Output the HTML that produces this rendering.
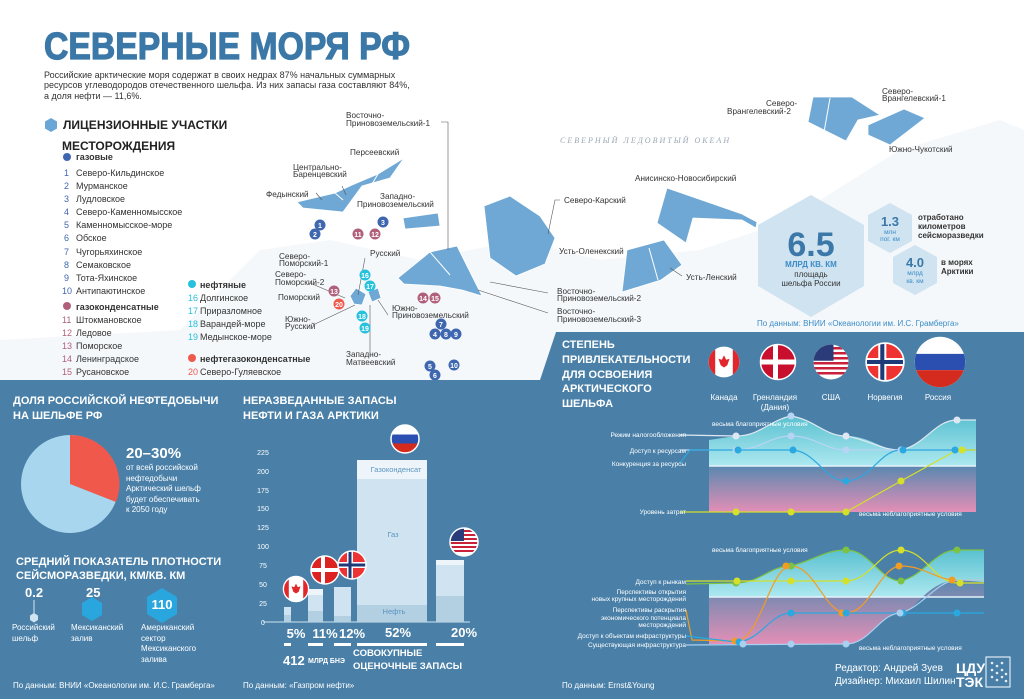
<!DOCTYPE html>
<html><head><meta charset="utf-8"><style>
html,body{margin:0;padding:0;background:#fff}
svg{display:block;font-family:"Liberation Sans","Noto Sans CJK SC",sans-serif}
.b{font-weight:bold}
</style></head><body>
<svg width="1024" height="699" viewBox="0 0 1024 699" xmlns="http://www.w3.org/2000/svg">
<defs>
<clipPath id="cCa"><circle cx="0" cy="0" r="14"/></clipPath>
<linearGradient id="cy" x1="0" y1="0" x2="0" y2="1"><stop offset="0" stop-color="#5cc8d4"/><stop offset="1" stop-color="#b8f4f8"/></linearGradient>
<linearGradient id="pk" x1="0" y1="0" x2="0" y2="1"><stop offset="0" stop-color="#5a88b0"/><stop offset="1" stop-color="#e48fb6"/></linearGradient>
</defs>
<rect width="1024" height="699" fill="#fff"/>
<g fill="#f5f8fb">
<path d="M180 330 L260 250 L330 240 L420 260 L520 240 L600 260 L700 250 L760 230 L820 200 L900 150 L1000 120 L1024 130 L1024 332 L560 332 L540 380 L0 380 L0 340 Z"/>
</g>
<text x="44" y="59" class="b" font-size="38" fill="#3b78a8" stroke="#3b78a8" stroke-width="1.2" textLength="366" lengthAdjust="spacingAndGlyphs">СЕВЕРНЫЕ МОРЯ РФ</text>
<g font-size="9" fill="#333">
<text x="44" y="78">Российские арктические моря содержат в своих недрах 87% начальных суммарных</text>
<text x="44" y="88">ресурсов углеводородов отечественного шельфа. Из них запасы газа составляют 84%,</text>
<text x="44" y="99">а доля нефти — 11,6%.</text>
</g>
<polygon points="51,118 57,121.5 57,128.5 51,132 45,128.5 45,121.5" fill="#6aa6d6"/>
<text x="63" y="129" class="b" font-size="12" fill="#222">ЛИЦЕНЗИОННЫЕ УЧАСТКИ</text>
<text x="62" y="150" class="b" font-size="12" fill="#222">МЕСТОРОЖДЕНИЯ</text>
<g font-size="9" fill="#333">
<circle cx="67" cy="157" r="4" fill="#3f67b0"/><text x="76" y="160" class="b">газовые</text>
<g fill="#3f67b0"><text x="64" y="176">1</text><text x="64" y="189">2</text><text x="64" y="202">3</text><text x="64" y="215">4</text><text x="64" y="228">5</text><text x="64" y="241">6</text><text x="64" y="255">7</text><text x="64" y="268">8</text><text x="64" y="281">9</text><text x="62" y="294">10</text></g>
<text x="76" y="176">Северо-Кильдинское</text><text x="76" y="189">Мурманское</text><text x="76" y="202">Лудловское</text><text x="76" y="215">Северо-Каменномысское</text><text x="76" y="228">Каменномысское-море</text><text x="76" y="241">Обское</text><text x="76" y="255">Чугорьяхинское</text><text x="76" y="268">Семаковское</text><text x="76" y="281">Тота-Яхинское</text><text x="76" y="294">Антипаютинское</text>
<circle cx="67" cy="306" r="4" fill="#b0607a"/><text x="76" y="310" class="b">газоконденсатные</text>
<g fill="#b0607a"><text x="62" y="323">11</text><text x="62" y="336">12</text><text x="62" y="349">13</text><text x="62" y="362">14</text><text x="62" y="375">15</text></g>
<text x="76" y="323">Штокмановское</text><text x="76" y="336">Ледовое</text><text x="76" y="349">Поморское</text><text x="76" y="362">Ленинградское</text><text x="76" y="375">Русановское</text>
<circle cx="192" cy="284" r="4" fill="#27c0dd"/><text x="200" y="288" class="b">нефтяные</text>
<g fill="#27c0dd"><text x="188" y="301">16</text><text x="188" y="314">17</text><text x="188" y="327">18</text><text x="188" y="340">19</text></g>
<text x="200" y="301">Долгинское</text><text x="200" y="314">Приразломное</text><text x="200" y="327">Варандей-море</text><text x="200" y="340">Медынское-море</text>
<circle cx="192" cy="358" r="4" fill="#f05a4c"/><text x="200" y="362" class="b">нефтегазоконденсатные</text>
<text x="188" y="375" fill="#f05a4c">20</text><text x="200" y="375">Северо-Гуляевское</text>
</g>
<g fill="#6fa8d4" stroke="#fff" stroke-width=".8">
<polygon points="297,202 335,193 352,185 378,174 404,158 390,178 362,186 343,212 303,208"/>
<polygon points="403,218 438,213 440,226 405,229"/>
<polygon points="398,278 430,252 457,246 482,296 462,290 440,286 404,284"/>
<polygon points="484,206 510,196 540,216 555,238 545,264 516,276 490,258"/>
<polygon points="657,223 667,188 742,214 757,222 756,228 742,220 693,218 686,243"/>
<polygon points="622,292 627,250 664,240 682,265 661,280"/>
<polygon points="808,122 813,97 852,97 880,115 858,120 846,141"/>
<polygon points="868,125 904,109 925,118 890,145 868,135"/>
<polygon points="350,296 356,288 366,294 362,305 354,304"/>
<polygon points="368,292 378,288 381,298 372,302"/>
</g>
<g stroke="#fff" stroke-width="1"><line x1="335" y1="193" x2="343" y2="200"/><line x1="378" y1="174" x2="372" y2="184"/><line x1="430" y1="252" x2="450" y2="275"/><line x1="830" y1="98" x2="823" y2="138"/><line x1="649" y1="248" x2="658" y2="280"/></g>
<g font-size="8.2" fill="#333">
<text x="346" y="118">Восточно-</text><text x="346" y="126">Приновоземельский-1</text>
<text x="350" y="155">Персеевский</text>
<text x="293" y="170">Центрально-</text><text x="293" y="177">Баренцевский</text>
<text x="266" y="197">Федынский</text>
<text x="380" y="199">Западно-</text><text x="357" y="207">Приновоземельский</text>
<text x="279" y="259">Северо-</text><text x="279" y="266">Поморский-1</text>
<text x="370" y="256">Русский</text>
<text x="275" y="277">Северо-</text><text x="275" y="285">Поморский-2</text>
<text x="278" y="300">Поморский</text>
<text x="285" y="322">Южно-</text><text x="285" y="329">Русский</text>
<text x="392" y="311">Южно-</text><text x="392" y="318">Приновоземельский</text>
<text x="346" y="357">Западно-</text><text x="346" y="365">Матвеевский</text>
<text x="557" y="294">Восточно-</text><text x="557" y="301">Приновоземельский-2</text>
<text x="557" y="314">Восточно-</text><text x="557" y="322">Приновоземельский-3</text>
<text x="564" y="203">Северо-Карский</text>
<text x="635" y="181">Анисинско-Новосибирский</text>
<text x="559" y="254">Усть-Оленекский</text>
<text x="686" y="280">Усть-Ленский</text>
<text x="766" y="106">Северо-</text><text x="727" y="114">Врангелевский-2</text>
<text x="882" y="94">Северо-</text><text x="882" y="101">Врангелевский-1</text>
<text x="889" y="152">Южно-Чукотский</text>
</g>
<text x="560" y="143" font-family="Liberation Serif,serif" font-style="italic" font-size="8" letter-spacing="2" fill="#9aa8b4">СЕВЕРНЫЙ ЛЕДОВИТЫЙ ОКЕАН</text>
<g stroke="#555" stroke-width=".6" fill="none">
<polyline points="441,122 448,122 448,250"/><polyline points="548,293 490,282"/><polyline points="548,313 478,290"/>
<polyline points="560,200 555,200 548,234"/><polyline points="342,186 346,195"/><polyline points="316,193 322,200"/>
<polyline points="310,283 345,298"/><polyline points="365,258 358,295"/><polyline points="313,325 355,305"/>
<polyline points="388,315 378,300"/><polyline points="370,356 370,305"/><polyline points="682,276 670,268"/>
</g>
<g font-size="7" class="b" fill="#fff" text-anchor="middle">
<g fill="#3f67b0"><circle cx="320" cy="225" r="5.5"/><circle cx="315" cy="234" r="5.5"/><circle cx="383" cy="222" r="5.5"/><circle cx="441" cy="324" r="5.5"/><circle cx="435" cy="334" r="5.5"/><circle cx="446" cy="334" r="5.5"/><circle cx="456" cy="334" r="5.5"/><circle cx="430" cy="366" r="5.5"/><circle cx="435" cy="375" r="5.5"/><circle cx="454" cy="365" r="5.5"/></g>
<g fill="#b0607a"><circle cx="358" cy="234" r="5.5"/><circle cx="375" cy="234" r="5.5"/><circle cx="334" cy="291" r="5.5"/><circle cx="423" cy="298" r="5.5"/><circle cx="435" cy="298" r="5.5"/></g>
<g fill="#27c0dd"><circle cx="365" cy="275" r="5.5"/><circle cx="370" cy="286" r="5.5"/><circle cx="362" cy="316" r="5.5"/><circle cx="365" cy="328" r="5.5"/></g>
<circle cx="339" cy="304" r="5.5" fill="#f05a4c"/>
<text x="320" y="228">1</text><text x="315" y="237">2</text><text x="383" y="225">3</text><text x="441" y="327">7</text><text x="435" y="337">4</text><text x="446" y="337">8</text><text x="456" y="337">9</text><text x="430" y="369">5</text><text x="435" y="378">6</text><text x="454" y="368">10</text>
<text x="358" y="237">11</text><text x="375" y="237">12</text><text x="334" y="294">13</text><text x="423" y="301">14</text><text x="435" y="301">15</text>
<text x="365" y="278">16</text><text x="370" y="289">17</text><text x="362" y="319">18</text><text x="365" y="331">19</text><text x="339" y="307">20</text>
</g>
<polygon points="811,195 864,225 864,286 811,317 758,286 758,225" fill="#cfe3f0"/>
<polygon points="890,203 912,215 912,241 890,253 868,241 868,215" fill="#cfe3f0"/>
<polygon points="915,245 937,257 937,283 915,295 893,283 893,257" fill="#cfe3f0"/>
<text x="811" y="256" text-anchor="middle" class="b" font-size="34" fill="#3b78a8">6.5</text>
<text x="811" y="267" text-anchor="middle" class="b" font-size="8" fill="#3b8cc8">МЛРД КВ. КМ</text>
<text x="811" y="277" text-anchor="middle" font-size="8" fill="#333">площадь</text>
<text x="811" y="286" text-anchor="middle" font-size="8" fill="#333">шельфа России</text>
<text x="890" y="226" text-anchor="middle" class="b" font-size="13" fill="#3b78a8">1.3</text>
<text x="890" y="234" text-anchor="middle" font-size="6.5" fill="#3b8cc8">млн</text><text x="890" y="241" text-anchor="middle" font-size="6.5" fill="#3b8cc8">пог. км</text>
<text x="915" y="267" text-anchor="middle" class="b" font-size="13" fill="#3b78a8">4.0</text>
<text x="915" y="275" text-anchor="middle" font-size="6.5" fill="#3b8cc8">млрд</text><text x="915" y="283" text-anchor="middle" font-size="6.5" fill="#3b8cc8">кв. км</text>
<g font-size="8" class="b" fill="#333"><text x="918" y="220">отработано</text><text x="918" y="229">километров</text><text x="918" y="238">сейсморазведки</text><text x="941" y="265">в морях</text><text x="941" y="274">Арктики</text></g>
<text x="757" y="326" font-size="8" fill="#3b8cc8">По данным: ВНИИ «Океанологии им. И.С. Грамберга»</text>
<polygon points="0,380 540,380 556,332 1024,332 1024,699 0,699" fill="#4a80a8"/>
<g class="b" font-size="11" fill="#fff">
<text x="13" y="404">ДОЛЯ РОССИЙСКОЙ НЕФТЕДОБЫЧИ</text><text x="13" y="419">НА ШЕЛЬФЕ РФ</text>
<text x="243" y="404">НЕРАЗВЕДАННЫЕ ЗАПАСЫ</text><text x="243" y="419">НЕФТИ И ГАЗА АРКТИКИ</text>
<text x="16" y="565">СРЕДНИЙ ПОКАЗАТЕЛЬ ПЛОТНОСТИ</text><text x="16" y="579">СЕЙСМОРАЗВЕДКИ, КМ/КВ. КМ</text>
<text x="562" y="348">СТЕПЕНЬ</text><text x="562" y="363">ПРИВЛЕКАТЕЛЬНОСТИ</text><text x="562" y="378">ДЛЯ ОСВОЕНИЯ</text><text x="562" y="392">АРКТИЧЕСКОГО</text><text x="562" y="407">ШЕЛЬФА</text>
</g>
<circle cx="70" cy="484" r="49" fill="#a9d6ef"/>
<path d="M70 484 L70 435 A49 49 0 0 1 116 502 Z" fill="#f0584c"/>
<text x="126" y="458" class="b" font-size="15" fill="#fff">20–30%</text>
<g font-size="8" fill="#fff"><text x="126" y="470">от всей российской</text><text x="126" y="481">нефтедобычи</text><text x="126" y="491">Арктический шельф</text><text x="126" y="502">будет обеспечивать</text><text x="126" y="512">к 2050 году</text></g>
<text x="25" y="597" class="b" font-size="13" fill="#fff">0.2</text>
<line x1="34" y1="600" x2="34" y2="614" stroke="#cfe3f0"/><polygon points="34,613 38,615.5 38,620 34,622.5 30,620 30,615.5" fill="#cfe3f0"/>
<text x="86" y="597" class="b" font-size="13" fill="#fff">25</text>
<polygon points="92,597 102,603 102,615 92,621 82,615 82,603" fill="#2aa6df"/>
<polygon points="162,588 177,597 177,614 162,623 147,614 147,597" fill="#2aa6df"/>
<text x="162" y="609" text-anchor="middle" class="b" font-size="13" fill="#fff">110</text>
<g font-size="8" fill="#fff"><text x="12" y="630">Российский</text><text x="12" y="641">шельф</text><text x="71" y="630">Мексиканский</text><text x="71" y="641">залив</text><text x="141" y="630">Американский</text><text x="141" y="641">сектор</text><text x="141" y="651">Мексиканского</text><text x="141" y="662">залива</text></g>
<g font-size="7" fill="#fff" text-anchor="middle"><text x="263" y="455">225</text><text x="263" y="474">200</text><text x="263" y="493">175</text><text x="263" y="511">150</text><text x="263" y="530">125</text><text x="263" y="549">100</text><text x="263" y="568">75</text><text x="263" y="587">50</text><text x="263" y="606">25</text><text x="263" y="625">0</text></g>
<line x1="263" y1="622" x2="470" y2="622" stroke="#cfe3f0"/>
<g fill="#cfe3f0"><rect x="284" y="607" width="7" height="15"/><rect x="308" y="589" width="15" height="33"/><rect x="334" y="587" width="17" height="35"/><rect x="357" y="460" width="70" height="162"/><rect x="436" y="560" width="28" height="62"/></g>
<g fill="#eef5fa"><rect x="357" y="460" width="70" height="19"/><rect x="308" y="589" width="15" height="6"/><rect x="436" y="560" width="28" height="5"/></g>
<g fill="#b3d0e3"><rect x="357" y="605" width="70" height="17"/><rect x="436" y="596" width="28" height="26"/><rect x="308" y="611" width="15" height="11"/><rect x="334" y="616" width="17" height="6"/><rect x="284" y="615" width="7" height="7"/></g>
<g font-size="7.5" fill="#5a95c0" text-anchor="middle"><text x="396" y="472">Газоконденсат</text><text x="393" y="537">Газ</text><text x="394" y="614">Нефть</text></g>
<g class="b" font-size="13" fill="#fff" text-anchor="middle"><text x="296" y="638">5%</text><text x="325" y="638">11%</text><text x="352" y="638">12%</text><text x="398" y="637">52%</text><text x="464" y="637">20%</text></g>
<g fill="#fff"><rect x="284" y="643" width="7" height="3"/><rect x="308" y="643" width="15" height="3"/><rect x="334" y="643" width="17" height="3"/><rect x="357" y="643" width="70" height="3"/><rect x="436" y="643" width="28" height="3"/></g>
<text x="283" y="665" class="b" font-size="13" fill="#fff">412</text><text x="308" y="663" class="b" font-size="7" fill="#fff">МЛРД БНЭ</text>
<text x="353" y="656" class="b" font-size="9.5" fill="#fff">СОВОКУПНЫЕ</text><text x="353" y="669" class="b" font-size="9.5" fill="#fff">ОЦЕНОЧНЫЕ ЗАПАСЫ</text>
<g font-size="8" fill="#fff">
<text x="13" y="688">По данным: ВНИИ «Океанологии им. И.С. Грамберга»</text>
<text x="243" y="688">По данным: «Газпром нефти»</text>
<text x="562" y="688">По данным: Ernst&amp;Young</text>
</g>
<g transform="translate(296,589) scale(0.9)"><circle r="14" fill="#fff"/><path d="M-14 -14h6v28h-6zM8 -14h6v28h-6z" fill="#e2262b" clip-path="url(#cCa)"/><path d="M0 -6 L2 -2 L5 -3 L3 3 L0 5 L-3 3 L-5 -3 L-2 -2Z" fill="#e2262b"/><circle r="14" fill="none" stroke="#fff" stroke-width="1.5"/></g>
<g transform="translate(325,570)"><circle r="14" fill="#d22"/><path d="M-14 -2h28v4h-28zM-4 -14h4v28h-4z" fill="#fff" clip-path="url(#cCa)"/><circle r="14" fill="none" stroke="#fff" stroke-width="1.5"/></g>
<g transform="translate(352,565)"><circle r="14" fill="#e33"/><path d="M-14 -3h28v6h-28zM-5 -14h6v28h-6z" fill="#fff" clip-path="url(#cCa)"/><path d="M-14 -1.5h28v3h-28zM-3.5 -14h3v28h-3z" fill="#1f3a78" clip-path="url(#cCa)"/><circle r="14" fill="none" stroke="#fff" stroke-width="1.5"/></g>
<g transform="translate(405,439)"><circle r="14" fill="#fff"/><path d="M-14 -4.5h28v9h-28z" fill="#2a4fb0"/><path d="M-14 4.5h28v10h-28z" fill="#d52b1e" clip-path="url(#cCa)"/><circle r="14" fill="none" stroke="#fff" stroke-width="1.5"/></g>
<g transform="translate(464,542)"><circle r="14" fill="#fff"/><g fill="#c8223a" clip-path="url(#cCa)"><rect x="-14" y="-12" width="28" height="2"/><rect x="-14" y="-8" width="28" height="2"/><rect x="-14" y="-4" width="28" height="2"/><rect x="-14" y="0" width="28" height="2"/><rect x="-14" y="4" width="28" height="2"/><rect x="-14" y="8" width="28" height="2"/></g><path d="M-14 -14h14v13h-14z" fill="#2b3a78" clip-path="url(#cCa)"/><circle r="14" fill="none" stroke="#fff" stroke-width="1.5"/></g>
<g transform="translate(724,362) scale(1.1)"><circle r="14" fill="#fff"/><path d="M-14 -14h6v28h-6zM8 -14h6v28h-6z" fill="#e2262b" clip-path="url(#cCa)"/><path d="M0 -6 L2 -2 L5 -3 L3 3 L0 5 L-3 3 L-5 -3 L-2 -2Z" fill="#e2262b"/></g>
<g transform="translate(778,362) scale(1.25)"><circle r="14" fill="#c8102e"/><path d="M-14 -2h28v4h-28zM-4 -14h4v28h-4z" fill="#fff" clip-path="url(#cCa)"/><circle r="14" fill="none" stroke="#fff" stroke-width="1.2"/></g>
<g transform="translate(831,362) scale(1.25)"><circle r="14" fill="#fff"/><g fill="#c8223a" clip-path="url(#cCa)"><rect x="-14" y="-12" width="28" height="2"/><rect x="-14" y="-8" width="28" height="2"/><rect x="-14" y="-4" width="28" height="2"/><rect x="-14" y="0" width="28" height="2"/><rect x="-14" y="4" width="28" height="2"/><rect x="-14" y="8" width="28" height="2"/></g><path d="M-14 -14h16v13h-16z" fill="#2b3a78" clip-path="url(#cCa)"/></g>
<g transform="translate(885,362) scale(1.35)"><circle r="14" fill="#e33"/><path d="M-14 -3h28v6h-28zM-5 -14h6v28h-6z" fill="#fff" clip-path="url(#cCa)"/><path d="M-14 -1.5h28v3h-28zM-3.5 -14h3v28h-3z" fill="#1f3a78" clip-path="url(#cCa)"/><circle r="14" fill="none" stroke="#fff" stroke-width="1.2"/></g>
<g transform="translate(940,362) scale(1.8)"><circle r="14" fill="#fff"/><path d="M-14 -4.5h28v9h-28z" fill="#2a4fb0" clip-path="url(#cCa)"/><path d="M-14 4.5h28v10h-28z" fill="#d52b1e" clip-path="url(#cCa)"/></g>
<g font-size="8" fill="#fff" text-anchor="middle"><text x="724" y="400">Канада</text><text x="775" y="400">Гренландия</text><text x="775" y="410">(Дания)</text><text x="831" y="400">США</text><text x="885" y="400">Норвегия</text><text x="938" y="400">Россия</text></g>
<path d="M709 440 L736 436 C760 436 770 420 791 416 C815 420 825 436 846 436 C870 436 880 450 901 450 C925 445 935 420 957 420 L976 420 L976 466 L709 466Z" fill="url(#cy)" opacity=".9"/>
<rect x="709" y="466" width="267" height="46" fill="url(#pk)"/>
<line x1="709" y1="466" x2="976" y2="466" stroke="#e6f2fa" stroke-width="1.5"/>
<g fill="none" stroke-width="1.2">
<path d="M680 435 L736 436 C760 436 770 420 791 416 C815 420 825 436 846 436 C870 440 880 450 901 450 C925 445 935 420 957 420 L976 420" stroke="#dfe8f2"/>
<path d="M680 450 L736 450 C760 450 770 436 791 436 C815 436 825 450 846 450 L976 450" stroke="#b8d4f4"/>
<path d="M680 463 L690 450 L736 450 L791 450 C815 450 825 481 846 481 C870 481 880 450 901 450 L976 450" stroke="#2aa8e0"/>
<path d="M680 512 L846 512 L901 481 L957 450 L976 450" stroke="#d4e02a"/>
</g>
<g><circle cx="736" cy="436" r="3.5" fill="#dfe8f2"/><circle cx="791" cy="436" r="3.5" fill="#b8d4f4"/><circle cx="791" cy="416" r="3.5" fill="#b8d4f4"/><circle cx="846" cy="436" r="3.5" fill="#dfe8f2"/><circle cx="957" cy="420" r="3.5" fill="#dfe8f2"/>
<circle cx="736" cy="450" r="3.5" fill="#b8d4f4"/><circle cx="846" cy="450" r="3.5" fill="#b8d4f4"/><circle cx="901" cy="450" r="3.5" fill="#b8d4f4"/><circle cx="738" cy="450" r="3.5" fill="#2aa8e0"/><circle cx="793" cy="450" r="3.5" fill="#2aa8e0"/><circle cx="846" cy="481" r="3.5" fill="#2aa8e0"/><circle cx="903" cy="450" r="3.5" fill="#2aa8e0"/><circle cx="955" cy="450" r="3.5" fill="#2aa8e0"/>
<circle cx="736" cy="512" r="3.5" fill="#d4e02a"/><circle cx="791" cy="512" r="3.5" fill="#d4e02a"/><circle cx="846" cy="512" r="3.5" fill="#d4e02a"/><circle cx="901" cy="481" r="3.5" fill="#d4e02a"/><circle cx="962" cy="450" r="3.5" fill="#d4e02a"/></g>
<g font-size="6.5" fill="#fff" text-anchor="end"><text x="686" y="437">Режим налогообложения</text><text x="686" y="453">Доступ к ресурсам</text><text x="686" y="466">Конкуренция за ресурсы</text><text x="686" y="514">Уровень затрат</text>
<text x="686" y="584">Доступ к рынкам</text><text x="686" y="594">Перспективы открытия</text><text x="686" y="601">новых крупных месторождений</text><text x="686" y="612">Перспективы раскрытия</text><text x="686" y="620">экономического потенциала</text><text x="686" y="627">месторождений</text><text x="686" y="638">Доступ к объектам инфраструктуры</text><text x="686" y="647">Существующая инфраструктура</text></g>
<g font-size="6.5" fill="#fff"><text x="712" y="426">весьма благоприятные условия</text><text x="859" y="516">весьма неблагоприятные условия</text><text x="712" y="552">весьма благоприятные условия</text><text x="859" y="650">весьма неблагоприятные условия</text></g>
<path d="M709 584 L736 583 C760 583 770 566 791 566 C815 560 825 550 846 550 C870 550 880 581 901 581 C925 575 935 550 957 550 L984 550 L984 597 L709 597Z" fill="url(#cy)" opacity=".9"/>
<path d="M709 597 L984 597 L984 582 L957 580 C925 582 915 613 901 613 C880 613 870 644 846 644 L709 644Z" fill="url(#pk)"/>
<line x1="709" y1="597" x2="984" y2="597" stroke="#e6f2fa" stroke-width="1.5"/>
<g fill="none" stroke-width="1.2">
<path d="M686 584 L736 583 C760 583 770 566 791 566 C815 560 825 550 846 550 C870 550 880 581 901 581 C925 575 935 550 957 550 L984 550" stroke="#7cc243"/>
<path d="M686 581 L791 581 L846 581 C870 581 880 550 901 550 C925 550 935 583 957 583 L984 583" stroke="#d4e02a"/>
<path d="M686 610 L692 640 L736 641 C760 641 770 566 791 566 C815 566 825 613 846 613 C870 613 880 566 901 566 C925 566 935 580 957 580 L984 580" stroke="#f39c22"/>
<path d="M686 636 L736 642 C760 642 770 613 791 613 L984 613" stroke="#2aa8e0"/>
<path d="M686 645 L846 644 C870 644 880 613 901 613 C925 605 935 582 957 580 L984 580" stroke="#a8d0f0"/>
</g>
<g>
<circle cx="736" cy="583" r="3.5" fill="#7cc243"/><circle cx="791" cy="566" r="3.5" fill="#7cc243"/><circle cx="846" cy="550" r="3.5" fill="#7cc243"/><circle cx="901" cy="581" r="3.5" fill="#7cc243"/><circle cx="957" cy="550" r="3.5" fill="#7cc243"/>
<circle cx="737" cy="581" r="3.5" fill="#d4e02a"/><circle cx="791" cy="581" r="3.5" fill="#d4e02a"/><circle cx="846" cy="581" r="3.5" fill="#d4e02a"/><circle cx="901" cy="550" r="3.5" fill="#d4e02a"/><circle cx="960" cy="583" r="3.5" fill="#d4e02a"/>
<circle cx="735" cy="641" r="3.5" fill="#f39c22"/><circle cx="786" cy="566" r="3.5" fill="#f39c22"/><circle cx="842" cy="613" r="3.5" fill="#f39c22"/><circle cx="899" cy="566" r="3.5" fill="#f39c22"/><circle cx="952" cy="580" r="3.5" fill="#f39c22"/>
<circle cx="739" cy="642" r="3.5" fill="#2aa8e0"/><circle cx="791" cy="613" r="3.5" fill="#2aa8e0"/><circle cx="846" cy="613" r="3.5" fill="#2aa8e0"/><circle cx="903" cy="613" r="3.5" fill="#2aa8e0"/><circle cx="957" cy="613" r="3.5" fill="#2aa8e0"/>
<circle cx="743" cy="644" r="3.5" fill="#a8d0f0"/><circle cx="791" cy="644" r="3.5" fill="#a8d0f0"/><circle cx="846" cy="644" r="3.5" fill="#a8d0f0"/><circle cx="900" cy="613" r="3.5" fill="#a8d0f0"/></g>
<g font-size="10" fill="#fff"><text x="835" y="671">Редактор: Андрей Зуев</text><text x="835" y="684">Дизайнер: Михаил Шилин</text></g>
<g class="b" font-size="14" fill="#fff"><text x="956" y="673">ЦДУ</text><text x="956" y="687">ТЭК</text></g>
<rect x="986" y="657" width="24" height="30" fill="none" stroke="#fff" stroke-width="1"/>
<g fill="#fff" opacity=".85"><circle cx="992" cy="663" r="1.3"/><circle cx="997" cy="666" r="1.3"/><circle cx="1002" cy="663" r="1.3"/><circle cx="992" cy="670" r="1.3"/><circle cx="997" cy="673" r="1.3"/><circle cx="1002" cy="670" r="1.3"/><circle cx="1006" cy="674" r="1.3"/><circle cx="992" cy="677" r="1.3"/><circle cx="997" cy="680" r="1.3"/><circle cx="1002" cy="677" r="1.3"/><circle cx="1006" cy="681" r="1.3"/></g>
</svg>
</body></html>
